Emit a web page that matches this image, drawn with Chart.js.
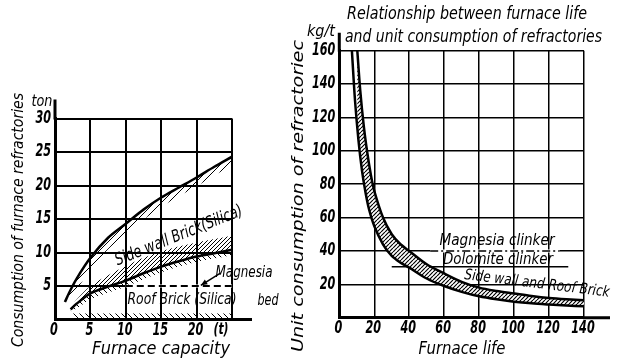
<!DOCTYPE html>
<html>
<head>
<meta charset="utf-8">
<script src="https://cdn.jsdelivr.net/npm/chart.js@4.4.1/dist/chart.umd.min.js"></script>
<style>
  html, body { margin: 0; padding: 0; background: #fff; }
  body { width: 619px; height: 362px; position: relative; overflow: hidden; }
  #leftWrap { position: absolute; left: 0; top: 0; width: 300px; height: 362px; }
  #rightWrap { position: absolute; left: 285px; top: 0; width: 334px; height: 362px; }
</style>
</head>
<body>
<div id="leftWrap"><canvas id="capacityChart" width="300" height="362"></canvas></div>
<div id="rightWrap"><canvas id="lifeChart" width="334" height="362"></canvas></div>
<script>
// ---- left chart: furnace capacity (t) vs consumption (ton) ----
const sideWallX = [1.4, 2, 3, 5, 7.5, 10, 12.5, 15, 17.5, 20, 22.5, 25];
const sideWallTop = [2.6, 4.0, 6.0, 9.2, 12.2, 14.3, 16.4, 18.2, 19.7, 21.2, 22.8, 24.3];
const sideWallHatch = [2.6, 3.0, 4.4, 7.4, 10.5, 12.7, 14.9, 16.8, 18.4, 19.9, 21.5, 23.0];

const roofX = [2.2, 3, 5, 7.5, 10, 12.5, 15, 17.5, 20, 22.5, 25];
const roofTop = [1.5, 2.3, 3.9, 4.9, 5.8, 6.9, 7.9, 8.7, 9.4, 9.9, 10.4];
const roofHatchAbove = [1.7, 2.9, 5.0, 6.6, 8.0, 9.2, 10.2, 10.9, 11.5, 12.0, 12.5];
const roofHatchBelow = [1.2, 1.6, 3.0, 4.0, 4.9, 6.0, 7.0, 7.9, 8.6, 9.1, 9.6];

const bedX = [2.5, 25];
const bedTop = [0.9, 0.9];
const magnesiaBedX = [10, 25];
const magnesiaBedY = [5, 5];

const capacityTicks = [0, 5, 10, 15, 20, 25];
const capacityLabels = ['0', '5', '10', '15', '20', ''];
const consumptionTicks = [5, 10, 15, 20, 25, 30];

// ---- right chart: furnace life vs unit consumption (kg/t) ----
const upperLifeX = [10.3, 12, 14, 16, 18, 20, 25, 30, 35, 40, 50, 60, 70, 80, 90, 100, 110, 120, 130, 140];
const upperUnit = [160, 136, 115, 99, 86, 76, 60, 50, 44, 40, 32, 26.5, 21.5, 18, 16, 14.5, 13, 11.8, 11, 10.4];
const lowerLifeX = [7.2, 9, 11, 13, 15, 17, 20, 25, 30, 35, 40, 50, 60, 70, 80, 90, 100, 110, 120, 130, 140];
const lowerUnit = [160, 130, 106, 88, 75, 65, 55, 44, 37, 33, 30, 23.5, 19, 15.5, 12.8, 11, 9.6, 8.6, 7.9, 7.3, 6.8];

const magnesiaClinkerX = [52, 126];
const magnesiaClinkerY = [40, 40];
const dolomiteClinkerX = [30, 131];
const dolomiteClinkerY = [30.5, 30.5];

const lifeTicks = [0, 20, 40, 60, 80, 100, 120, 140];
const lifeLabels = ['0', '20', '40', '60', '80', '100', '120', '140'];
const unitTicks = [20, 40, 60, 80, 100, 120, 140, 160];

const FONT = '"DejaVu Sans", sans-serif';

function pts(xs, ys) {
    return xs.map((x, i) => ({ x: x, y: ys[i] }));
}

function hatch(size, dir, lw, bg) {
    const c = document.createElement('canvas');
    c.width = size;
    c.height = size;
    const g = c.getContext('2d');
    if (bg) {
        g.fillStyle = bg;
        g.fillRect(0, 0, size, size);
    }
    g.strokeStyle = '#000';
    g.lineWidth = lw;
    g.beginPath();
    for (let k = -1; k <= 1; k++) {
        if (dir > 0) {
            g.moveTo(k * size, size);
            g.lineTo(k * size + size, 0);
        } else {
            g.moveTo(k * size, 0);
            g.lineTo(k * size + size, size);
        }
    }
    g.stroke();
    return g.createPattern(c, 'repeat');
}

// italic text, squeezed horizontally to a given width (or by a factor)
function drawText(ctx, t) {
    ctx.save();
    ctx.font = 'italic ' + (t.weight || '') + ' ' + t.size + 'px ' + FONT;
    ctx.fillStyle = '#000';
    ctx.textAlign = t.align || 'center';
    ctx.textBaseline = 'middle';
    const w = ctx.measureText(t.text).width;
    ctx.translate(t.x, t.y);
    if (t.angle) ctx.rotate(t.angle * Math.PI / 180);
    ctx.scale(t.width ? t.width / w : t.sx, 1);
    ctx.fillText(t.text, 0, 0);
    ctx.restore();
}

// tick labels, texts, axis extensions and arrows drawn on top of the chart
const decorPlugin = {
    id: 'decor',
    afterDraw(chart, args, opts) {
        const ctx = chart.ctx;
        const a = chart.chartArea;
        const xs = chart.scales.x, ys = chart.scales.y;
        ctx.save();
        ctx.strokeStyle = '#000';
        ctx.lineWidth = 3;
        ctx.beginPath();
        ctx.moveTo(a.right - 1, a.bottom);
        ctx.lineTo(a.right + opts.extendX, a.bottom);
        ctx.moveTo(a.left, a.top + 1);
        ctx.lineTo(a.left, a.top - opts.extendY);
        ctx.stroke();
        if (opts.arrow) {
            const x1 = xs.getPixelForValue(opts.arrow[0]), y1 = ys.getPixelForValue(opts.arrow[1]);
            const x2 = xs.getPixelForValue(opts.arrow[2]), y2 = ys.getPixelForValue(opts.arrow[3]);
            ctx.lineWidth = 1.5;
            ctx.beginPath();
            ctx.moveTo(x1, y1);
            ctx.lineTo(x2, y2);
            ctx.stroke();
            const ang = Math.atan2(y2 - y1, x2 - x1);
            ctx.beginPath();
            ctx.moveTo(x2, y2);
            ctx.lineTo(x2 - 7 * Math.cos(ang - 0.4), y2 - 7 * Math.sin(ang - 0.4));
            ctx.lineTo(x2 - 7 * Math.cos(ang + 0.4), y2 - 7 * Math.sin(ang + 0.4));
            ctx.closePath();
            ctx.fillStyle = '#000';
            ctx.fill();
        }
        ctx.restore();
        opts.xTicks.forEach((v, i) => drawText(ctx, {
            text: opts.xLabels[i], x: xs.getPixelForValue(v) - 1, y: a.bottom + 11, size: 17, sx: 0.66, weight: 'bold',
        }));
        opts.yTicks.forEach(v => drawText(ctx, {
            text: String(v), x: a.left - 4, y: ys.getPixelForValue(v), size: 17, sx: 0.66, weight: 'bold', align: 'right',
        }));
        (opts.texts || []).forEach(t => drawText(ctx, t));
    },
};

function line(data, extra) {
    return Object.assign({
        data: data,
        showLine: true,
        pointRadius: 0,
        borderColor: '#000',
        borderWidth: 2.5,
        backgroundColor: 'transparent',
        fill: false,
        tension: 0.3,
    }, extra);
}

function axes(xTicks, yTicks, xMax, yMax, gridWidth, yWidth) {
    return {
        x: {
            type: 'linear',
            min: 0,
            max: xMax,
            afterBuildTicks: s => { s.ticks = xTicks.map(v => ({ value: v })); },
            afterFit: s => { s.height = 30; },
            ticks: { callback: () => '' },
            grid: { color: '#000', lineWidth: gridWidth, drawTicks: false },
            border: { color: '#000', width: 3 },
        },
        y: {
            type: 'linear',
            min: 0,
            max: yMax,
            afterBuildTicks: s => { s.ticks = [0].concat(yTicks).map(v => ({ value: v })); },
            afterFit: s => { s.width = yWidth; },
            ticks: { callback: () => '' },
            grid: { color: '#000', lineWidth: gridWidth, drawTicks: false },
            border: { color: '#000', width: 3 },
        },
    };
}

const sparse = hatch(7, 1, 1, null);
const dense = hatch(4, 1, 1, null);
const back = hatch(6, -1, 1, null);
const band = hatch(4, 1, 1.2, '#fff');

new Chart(document.getElementById('capacityChart'), {
    type: 'scatter',
    data: {
        datasets: [
            line(pts(sideWallX, sideWallTop), { order: 1 }),
            line(pts(sideWallX, sideWallHatch), { borderWidth: 0, fill: 0, backgroundColor: sparse, order: 5 }),
            line(pts(roofX, roofTop), { order: 1 }),
            line(pts(roofX, roofHatchAbove), { borderWidth: 0, fill: 2, backgroundColor: dense, order: 5 }),
            line(pts(roofX, roofHatchBelow), { borderWidth: 0, fill: 2, backgroundColor: back, order: 5 }),
            line(pts(bedX, bedTop), { borderWidth: 0, fill: 'origin', backgroundColor: back, tension: 0, order: 5 }),
            line(pts(magnesiaBedX, magnesiaBedY), { borderColor: '#fff', borderWidth: 3, tension: 0, order: 3 }),
            line(pts(magnesiaBedX, magnesiaBedY), { borderWidth: 2, borderDash: [7, 4], tension: 0, order: 2 }),
        ],
    },
    options: {
        responsive: false,
        animation: false,
        layout: { padding: { left: 0, right: 68, top: 118.5, bottom: 12.5 } },
        plugins: {
            legend: { display: false },
            tooltip: { enabled: false },
            decor: {
                extendX: 20,
                extendY: 19,
                arrow: [23.3, 6.9, 20.6, 5.1],
                xTicks: capacityTicks,
                xLabels: capacityLabels,
                yTicks: consumptionTicks,
                texts: [
                    { text: 'Consumption of furnace refractories', x: 19, y: 220, width: 254, size: 16, angle: -90 },
                    { text: 'ton', x: 42, y: 102, width: 21, size: 15 },
                    { text: 'Furnace capacity', x: 161, y: 350, width: 138, size: 17 },
                    { text: 'Side wall Brick(Silica)', x: 179, y: 236, width: 136, size: 17, angle: -22 },
                    { text: 'Roof Brick (Silica)', x: 182, y: 300, width: 109, size: 16 },
                    { text: 'Magnesia', x: 244, y: 273, width: 57, size: 16 },
                    { text: 'bed', x: 268, y: 301, width: 21, size: 16 },
                    { text: '(t)', x: 221, y: 330, width: 15, size: 16, weight: 'bold' },
                ],
            },
        },
        scales: axes(capacityTicks, consumptionTicks, 25, 30, 2, 55),
    },
    plugins: [decorPlugin],
});

new Chart(document.getElementById('lifeChart'), {
    type: 'scatter',
    data: {
        datasets: [
            line(pts(upperLifeX, upperUnit), { order: 1 }),
            line(pts(lowerLifeX, lowerUnit), { fill: 0, backgroundColor: band, order: 1 }),
            line([{ x: 140, y: lowerUnit[lowerUnit.length - 1] }, { x: 140, y: upperUnit[upperUnit.length - 1] }], { borderWidth: 2, tension: 0, order: 1 }),
            line(pts(dolomiteClinkerX, dolomiteClinkerY), { borderWidth: 1.5, tension: 0, order: 4 }),
            line(pts(magnesiaClinkerX, magnesiaClinkerY), { borderColor: '#fff', borderWidth: 3, tension: 0, order: 4 }),
            line(pts(magnesiaClinkerX, magnesiaClinkerY), { borderWidth: 1.5, borderDash: [8, 3, 2, 3], tension: 0, order: 3 }),
        ],
    },
    options: {
        responsive: false,
        animation: false,
        layout: { padding: { left: 0, right: 35, top: 50.7, bottom: 14.3 } },
        plugins: {
            legend: { display: false },
            tooltip: { enabled: false },
            decor: {
                extendX: 26,
                extendY: 18,
                xTicks: lifeTicks,
                xLabels: lifeLabels,
                yTicks: unitTicks,
                texts: [
                    { text: 'Relationship between furnace life', x: 182, y: 15, width: 240, size: 17 },
                    { text: 'and unit consumption of refractories', x: 188.5, y: 38, width: 257, size: 17 },
                    { text: 'kg/t', x: 36, y: 32, width: 28, size: 16 },
                    { text: 'Unit consumption of refractoriec', x: 14, y: 196, width: 312, size: 16, angle: -90 },
                    { text: 'Furnace life', x: 177, y: 349, width: 87, size: 18 },
                    { text: 'Magnesia clinker', x: 212, y: 241, width: 115, size: 16 },
                    { text: 'Dolomite clinker', x: 213, y: 260, width: 110, size: 16 },
                    { text: 'Side wall and Roof Brick', x: 252, y: 284, width: 146, size: 15, angle: 7 },
                ],
            },
        },
        scales: axes(lifeTicks, unitTicks, 140, 160, 1.5, 54.3),
    },
    plugins: [decorPlugin],
});
</script>
</body>
</html>
